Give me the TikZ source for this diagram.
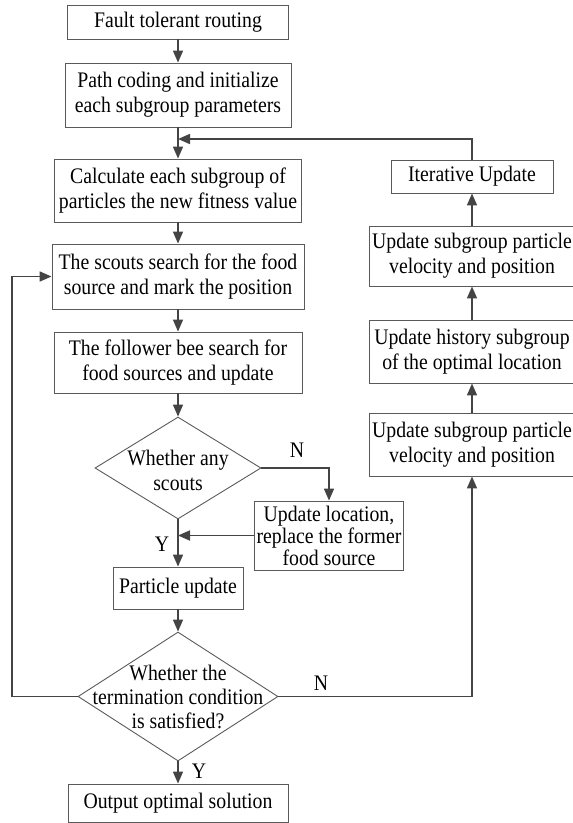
\documentclass[tikz,border=0pt]{standalone}
\usepackage{fontspec}
\setmainfont{Liberation Serif}[FakeStretch=0.89]
\usetikzlibrary{shapes.geometric,arrows.meta}
\definecolor{boxgray}{RGB}{90,90,90}
\definecolor{linegray}{RGB}{68,68,68}
\begin{document}
\begin{tikzpicture}[x=1pt,y=-1pt,
  box/.style={draw=boxgray, line width=0.9pt, align=center, inner sep=2pt, font=\fontsize{22.2}{25}\selectfont},
  dia/.style={draw=boxgray, line width=0.9pt, diamond, inner sep=0pt},
  txt/.style={align=center, inner sep=0pt, font=\fontsize{22.2}{24}\selectfont},
  conn/.style={draw=linegray, line width=1.7pt, -{Triangle[length=12pt,width=10pt]}}]
\useasboundingbox (0,0) rectangle (573,823);
% main column
\node[box, minimum width=221pt, minimum height=34pt] (b1) at (178,22) {Fault tolerant routing};
\node[box, minimum width=226pt, minimum height=64pt] (b2) at (178,95) {Path coding and initialize\\each subgroup parameters};
\node[box, minimum width=247pt, minimum height=63pt] (b3) at (178,190.5) {Calculate each subgroup of\\particles the new fitness value};
\node[box, minimum width=252pt, minimum height=65pt] (b4) at (178,276.5) {The scouts search for the food\\source and mark the position};
\node[box, minimum width=248pt, minimum height=61pt] (b5) at (178,362.5) {The follower bee search for\\food sources and update};
\node[dia, minimum width=166pt, minimum height=102pt] (d1) at (178,468) {};
\node[txt, font=\fontsize{22.2}{25}\selectfont] (d1t) at (178,470) {Whether any\\scouts};
\node[box, minimum width=148pt, minimum height=69pt, font=\fontsize{22.2}{22}\selectfont] (ul) at (329,535.5) {Update location,\\replace the former\\food source};
\node[box, minimum width=130pt, minimum height=42pt] (pu) at (178,588) {Particle update};
\node[dia, minimum width=200pt, minimum height=129pt] (d2) at (178,696.5) {};
\node[txt] (d2t) at (178,697) {Whether the\\termination condition\\is satisfied?};
\node[box, minimum width=220pt, minimum height=38pt] (out) at (178,803) {Output optimal solution};
% right column
\node[box, minimum width=162pt, minimum height=33pt] (iu) at (472,176.5) {Iterative Update};
\node[box, minimum width=206pt, minimum height=60pt] (r1) at (472,256) {Update subgroup particle\\velocity and position};
\node[box, minimum width=206pt, minimum height=63pt] (r2) at (472,351.5) {Update history subgroup\\of the optimal location};
\node[box, minimum width=206pt, minimum height=63pt] (r3) at (472,444.5) {Update subgroup particle\\velocity and position};
% labels
\node[txt] (n1) at (297,450) {N};
\node[txt] (n2) at (321,683) {N};
\node[txt] (y1) at (162,544) {Y};
\node[txt] (y2) at (199,771) {Y};
% helper coordinates
\coordinate (j1) at (178,139);
\coordinate (j2) at (178,535.5);
\coordinate (lx) at (12,696.5);
% connectors
\draw[conn] (b1) -- (b2);
\draw[conn] (b2) -- (b3);
\draw[conn] (iu.north) |- (j1);
\draw[conn] (b3) -- (b4);
\draw[conn] (b4) -- (b5);
\draw[conn] (b5) -- (d1.north);
\draw[conn] (d1.east) -| (ul.north);
\draw[conn] (ul.west) -- (j2);
\draw[conn] (d1.south) -- (pu.north);
\draw[conn] (pu) -- (d2.north);
\draw[conn] (d2.west) -- (lx) |- (b4.west);
\draw[conn] (d2.east) -| (r3.south);
\draw[conn] (d2.south) -- (out.north);
\draw[conn] (r3) -- (r2);
\draw[conn] (r2) -- (r1);
\draw[conn] (r1) -- (iu);
\end{tikzpicture}
\end{document}
